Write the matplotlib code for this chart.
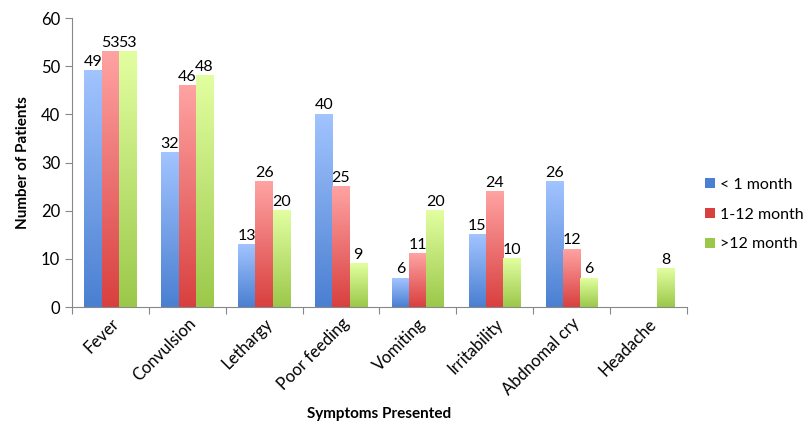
import numpy as np
import matplotlib.pyplot as plt
from matplotlib.colors import LinearSegmentedColormap
from matplotlib.patches import Patch

plt.rcParams['font.family'] = ['Lato', 'DejaVu Sans']

symptoms = ['Fever', 'Convulsion', 'Lethargy', 'Poor feeding', 'Vomiting',
            'Irritability', 'Abdnomal cry', 'Headache']
under_1m = [49, 32, 13, 40, 6, 15, 26, np.nan]
m1_12 = [53, 46, 26, 25, 11, 24, 12, np.nan]
over_12m = [53, 48, 20, 9, 20, 10, 6, 8]
series_names = ['< 1 month', '1-12 month', '>12 month']

# (top, bottom) colours of the gradient
colors = [('#a2c4ff', '#4a7fd1'), ('#ffa3a3', '#d8403f'), ('#e2ffa0', '#9bc84a')]

fig = plt.figure(figsize=(8.09, 4.29), dpi=100)
ax = fig.add_axes([0.089, 0.284, 0.760, 0.674])

x = np.arange(len(symptoms))
w = 0.225
grad = np.linspace(1, 0, 256).reshape(-1, 1)

for i, (vals, (ctop, cbot)) in enumerate(zip([under_1m, m1_12, over_12m], colors)):
    cmap = LinearSegmentedColormap.from_list('g%d' % i, [cbot, ctop])
    pos = x + (i - 1) * w
    bars = ax.bar(pos, vals, w, color='none', edgecolor='none')
    for b, v in zip(bars, vals):
        if np.isnan(v):
            continue
        x0, x1 = b.get_x(), b.get_x() + b.get_width()
        ax.imshow(grad, cmap=cmap, extent=[x0, x1, 0, v], aspect='auto',
                  interpolation='bicubic', zorder=2)
        ax.text(b.get_x() + b.get_width() / 2, v + 0.4, '%d' % v,
                ha='center', va='bottom', fontsize=11.5)

ax.set_xlim(-0.5, len(symptoms) - 0.5)
ax.set_ylim(0, 60)
ax.set_yticks(range(0, 61, 10))
ax.set_xticks(np.arange(len(symptoms) + 1) - 0.5, minor=False)
ax.set_xticklabels([])
ax.set_xticks(x, minor=True)
ax.set_xticklabels(symptoms, minor=True, rotation=45, ha='right',
                   rotation_mode='anchor', fontsize=12)
ax.tick_params(axis='x', which='minor', length=0, pad=6)
ax.tick_params(axis='x', which='major', length=5, color='#888888')
ax.tick_params(axis='y', length=5, color='#888888', labelsize=12)

for s in ['top', 'right']:
    ax.spines[s].set_visible(False)
for s in ['left', 'bottom']:
    ax.spines[s].set_color('#888888')

ax.set_ylabel('Number of Patients', fontsize=11, fontweight='bold', labelpad=8)
ax.set_xlabel('Symptoms Presented', fontsize=11, fontweight='bold', labelpad=6)

handles = [Patch(facecolor=c[1], edgecolor='none') for c in colors]
fig.legend(handles, series_names, loc='center left', bbox_to_anchor=(0.872, 0.50),
           frameon=False, fontsize=11.5, handlelength=0.6, handleheight=0.6,
           handletextpad=0.3, labelspacing=1.0, borderpad=0, borderaxespad=0)

fig.savefig('out.png', dpi=100)
